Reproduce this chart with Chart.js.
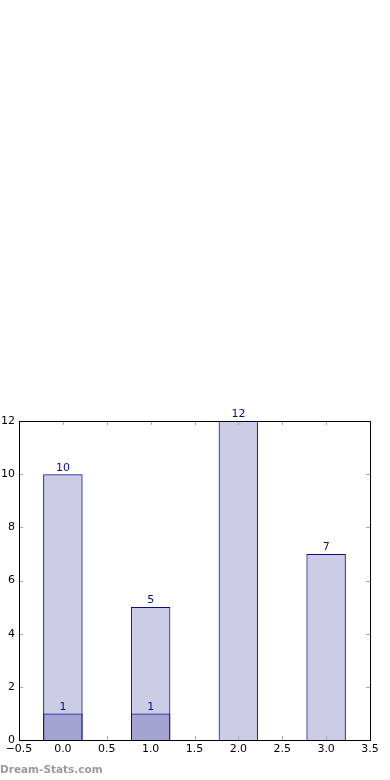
<!DOCTYPE html>
<html>
<head>
<meta charset="utf-8">
<script src="https://cdn.jsdelivr.net/npm/chart.js@4/dist/chart.umd.min.js"></script>
<style>
  html, body { margin: 0; padding: 0; background: #fff; }
  #wrap { position: relative; width: 390px; height: 780px; }
  #watermark {
    position: absolute; left: 0; top: 763px;
    font: bold 10.5px "DejaVu Sans", sans-serif; color: #9a9a9a;
  }
</style>
</head>
<body>
<div id="wrap">
  <canvas id="chart" width="390" height="780"></canvas>
  <div id="watermark">Dream-Stats.com</div>
</div>
<script>
// bar positions and values
const positions = [0, 1, 2, 3];
const totals = [10, 5, 12, 7];
const subset = [1, 1, null, null];

const xTicks = [-0.5, 0, 0.5, 1, 1.5, 2, 2.5, 3, 3.5];
const yTicks = [0, 2, 4, 6, 8, 10, 12];

const navy = "rgb(10,10,140)";
const fill = "rgba(0,0,128,0.2)";
const font = { family: "DejaVu Sans", size: 11 };

// frame + inside tick marks, like the original axes
const framePlugin = {
  id: "frame",
  afterDraw(chart) {
    const { ctx, chartArea: a, scales } = chart;
    ctx.save();
    ctx.strokeStyle = "#aaaaaa";
    ctx.lineWidth = 1;
    xTicks.forEach(v => {
      const px = Math.round(scales.x.getPixelForValue(v)) + 0.5;
      ctx.beginPath();
      ctx.moveTo(px, a.bottom); ctx.lineTo(px, a.bottom - 4);
      ctx.moveTo(px, a.top); ctx.lineTo(px, a.top + 4);
      ctx.stroke();
    });
    yTicks.forEach(v => {
      const py = Math.round(scales.y.getPixelForValue(v)) + 0.5;
      ctx.beginPath();
      ctx.moveTo(a.left, py); ctx.lineTo(a.left + 4, py);
      ctx.moveTo(a.right, py); ctx.lineTo(a.right - 4, py);
      ctx.stroke();
    });
    ctx.strokeStyle = "#000";
    ctx.strokeRect(Math.round(a.left) + 0.5, Math.round(a.top) + 0.5,
      Math.round(a.right - a.left), Math.round(a.bottom - a.top));
    ctx.restore();
  }
};

// value labels above each bar
const labelPlugin = {
  id: "barLabels",
  afterDatasetsDraw(chart) {
    const { ctx } = chart;
    ctx.save();
    ctx.fillStyle = navy;
    ctx.font = "11px 'DejaVu Sans'";
    ctx.textAlign = "center";
    ctx.textBaseline = "bottom";
    chart.data.datasets.forEach((ds, i) => {
      chart.getDatasetMeta(i).data.forEach((bar, j) => {
        const v = ds.data[j].y;
        if (v == null) return;
        ctx.fillText(String(v), bar.x, bar.y - 1);
      });
    });
    ctx.restore();
  }
};

new Chart(document.getElementById("chart"), {
  type: "bar",
  data: {
    datasets: [
      {
        data: positions.map((x, i) => ({ x, y: totals[i] })),
        backgroundColor: fill,
        borderColor: navy,
        borderWidth: 1,
        order: 2,
      },
      {
        data: positions.map((x, i) => ({ x, y: subset[i] })),
        backgroundColor: fill,
        borderColor: navy,
        borderWidth: 1,
        order: 1,
      },
    ],
  },
  options: {
    responsive: false,
    animation: false,
    grouped: false,
    barPercentage: 0.9,
    categoryPercentage: 1.0,
    layout: { padding: { top: 421, right: 20, left: 0, bottom: 0 } },
    plugins: { legend: { display: false }, tooltip: { enabled: false } },
    scales: {
      x: {
        type: "linear",
        offset: false,
        min: -0.5,
        max: 3.5,
        afterBuildTicks: s => { s.ticks = xTicks.map(v => ({ value: v })); },
        afterFit: s => { s.height = 40; },
        grid: { display: false, drawTicks: false },
        border: { display: false },
        ticks: {
          color: "#000",
          font,
          padding: 3,
          maxRotation: 0,
          callback: v => v.toFixed(1).replace("-", "\u2212"),
        },
      },
      y: {
        min: 0,
        max: 12,
        afterBuildTicks: s => { s.ticks = yTicks.map(v => ({ value: v })); },
        afterFit: s => { s.width = 19; },
        grid: { display: false, drawTicks: false },
        border: { display: false },
        ticks: { color: "#000", font, padding: 4 },
      },
    },
  },
  plugins: [framePlugin, labelPlugin],
});
</script>
</body>
</html>
